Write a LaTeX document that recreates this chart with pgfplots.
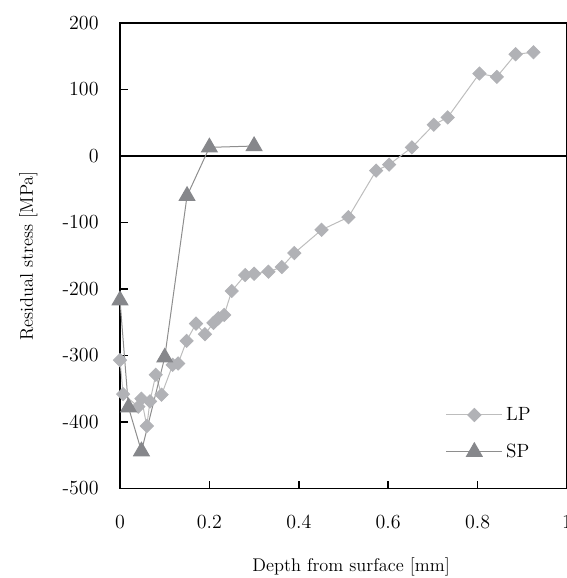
\documentclass[border=0pt]{standalone}
\usepackage{pgfplots}
\pgfplotsset{compat=1.18}
\definecolor{lpfill}{HTML}{B1B2B6}
\definecolor{lpline}{HTML}{BDBDBD}
\definecolor{spfill}{HTML}{86878B}
\definecolor{spline}{HTML}{8E8E8E}
\begin{document}
\fontsize{11}{13}\selectfont
\begin{tikzpicture}
\begin{axis}[
    scale only axis,
    width=268.2pt, height=279.3pt,
    xmin=0, xmax=1,
    ymin=-500, ymax=200,
    xtick={0,0.2,0.4,0.6,0.8,1},
    xticklabels={0,0.2,0.4,0.6,0.8,1},
    ytick={-500,-400,-300,-200,-100,0,100,200},
    yticklabels={-500,-400,-300,-200,-100,0,100,200},
    tick align=inside,
    tick pos=left,
    major tick length=4.8pt,
    tick style={black, line width=0.9pt},
    axis line style={black, line width=1pt},
    ticklabel style={font=\fontsize{12}{14}\selectfont},
    xticklabel style={anchor=center, yshift=-20pt},
    yticklabel style={xshift=-9pt},
    xlabel={Depth from surface [mm]},
    ylabel={Residual stress [MPa]},
    xlabel style={at={(axis description cs:0.517,0)}, anchor=center, yshift=-47pt},
    ylabel style={at={(axis description cs:0,0.5)}, anchor=center, yshift=55pt},
    legend style={draw=none, fill=none, at={(0.717,0.19)}, anchor=north west,
        row sep=8.5pt, font=\fontsize{11.5}{13}\selectfont},
    legend cell align=left,
    legend image code/.code={
        \draw[#1, mark repeat=2, mark phase=2]
        plot coordinates {(0pt,0pt) (16.8pt,0pt) (33.6pt,0pt)};
    },
]
\draw[black, line width=0.9pt] (axis cs:0,0) -- (axis cs:1,0);

% LP
\addplot[color=lpline, line width=0.6pt, mark=square*,
    mark size=2.75pt, mark options={rotate=45, fill=lpfill, draw=lpfill}]
coordinates {
    (0,-307) (0.007,-358) (0.041,-377) (0.048,-365) (0.06,-406)
    (0.067,-369) (0.08,-329) (0.093,-359) (0.118,-314) (0.13,-312)
    (0.149,-278) (0.17,-252) (0.19,-268) (0.209,-251) (0.22,-244)
    (0.233,-239) (0.25,-203) (0.28,-179) (0.30,-177) (0.332,-174)
    (0.362,-167) (0.39,-146) (0.451,-111) (0.511,-92) (0.573,-22)
    (0.602,-13) (0.653,13) (0.702,47) (0.733,58) (0.804,124)
    (0.843,119) (0.885,153) (0.925,156)
};
\addlegendentry{LP}

% SP
\addplot[color=spline, line width=0.6pt, mark=triangle*,
    mark size=5.4pt, mark options={fill=spfill, draw=spfill}]
coordinates {
    (0,-217) (0.019,-378) (0.048,-444) (0.10,-303)
    (0.15,-60) (0.20,13) (0.30,15)
};
\addlegendentry{SP}
\end{axis}
\pgfresetboundingbox
\useasboundingbox (-72pt,-53.7pt) rectangle (267.6pt,293.1pt);
\end{tikzpicture}
\end{document}
